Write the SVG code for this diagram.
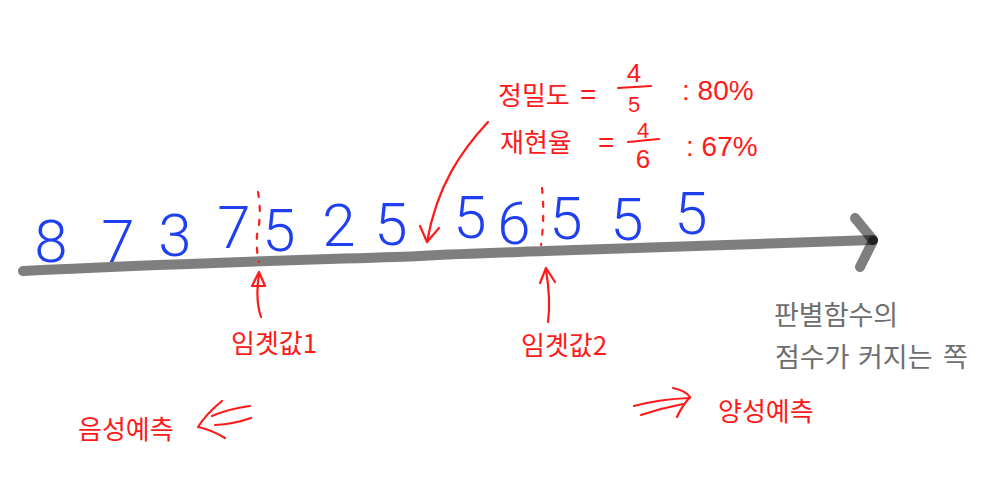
<svg xmlns="http://www.w3.org/2000/svg" width="993" height="502" viewBox="0 0 993 502">
<style>
.digit{font-family:"Roboto","Liberation Sans",sans-serif;font-weight:300;font-size:60px;fill:#1f3ff0;text-anchor:middle}
.hand{font-family:"Liberation Sans","Noto Sans CJK KR",sans-serif;fill:#ff1a1a}
.lbl{font-family:"Noto Sans CJK KR","Noto Sans",sans-serif;font-size:26px;fill:#ff1a1a}
.gray{font-family:"Noto Sans CJK KR","Noto Sans",sans-serif;font-size:27px;fill:#6e6e6e}
.red{fill:none;stroke:#ff1a1a;stroke-width:2.2;stroke-linecap:round;stroke-linejoin:round}
.dash{fill:none;stroke:#ff1a1a;stroke-width:2.2;stroke-dasharray:5 9;stroke-linecap:round}
.axis{fill:none;stroke:#000;stroke-opacity:0.5;stroke-width:10;stroke-linecap:round}
</style>
<rect width="993" height="502" fill="#fff"/>
<g id="axis">
<path class="axis" d="M23,271 C200,262 380,258 420,256 C470,253 520,252 545,251 C700,246 800,242 873,240"/>
<path class="axis" d="M855,218 L873,240"/>
<path class="axis" d="M873,241 L860,267"/>
</g>
<g id="scores">
<text class="digit" x="51" y="262">8</text>
<text class="digit" x="118" y="262">7</text>
<text class="digit" x="175" y="256">3</text>
<text class="digit" x="234" y="248">7</text>
<text class="digit" x="279" y="251">5</text>
<text class="digit" x="339" y="246">2</text>
<text class="digit" x="391" y="245">5</text>
<text class="digit" x="470" y="238">5</text>
<text class="digit" x="514" y="244">6</text>
<text class="digit" x="566" y="239">5</text>
<text class="digit" x="627" y="240">5</text>
<text class="digit" x="691" y="234">5</text>
</g>
<g id="metrics">
<text class="hand" x="498" y="105" font-size="26">정밀도</text>
<text class="hand" x="580" y="104" font-size="28">=</text>
<text class="hand" x="634" y="82" font-size="26" text-anchor="middle">4</text>
<path class="red" d="M618,88 L651,86"/>
<text class="hand" x="634" y="112" font-size="22" text-anchor="middle">5</text>
<text class="hand" x="682" y="100" font-size="28">: 80%</text>
<text class="hand" x="500" y="152" font-size="26">재현율</text>
<text class="hand" x="598" y="152" font-size="28">=</text>
<text class="hand" x="643" y="138" font-size="22" text-anchor="middle">4</text>
<path class="red" d="M628,142 L659,139"/>
<text class="hand" x="643" y="168" font-size="26" text-anchor="middle">6</text>
<text class="hand" x="686" y="156" font-size="28">: 67%</text>
</g>
<g id="threshold1">
<path class="dash" d="M258,192 Q262,215 257,235 Q256,250 259,262"/>
<text class="lbl" x="231" y="353" font-size="25.5">임곗값1</text>
</g>
<g id="threshold2">
<path class="dash" d="M542,188 Q545,215 541,245"/>
<text class="lbl" x="521" y="355" font-size="25.5">임곗값2</text>
</g>
<g id="direction">
<text class="gray" x="774" y="325">판별함수의</text>
<text class="gray" y="367"><tspan x="775">점수가</tspan><tspan x="858">커지는</tspan><tspan x="943">쪽</tspan></text>
</g>
<g id="negative">
<text class="lbl" x="78" y="439">음성예측</text>
</g>
<g id="positive">
<text class="lbl" x="718" y="421">양성예측</text>
</g>
<g id="connectors">
<path class="red" d="M488,122 C462,150 437,185 427,242"/>
<path class="red" d="M420,226 L427,242 L439,228"/>
<path class="red" d="M261,317 Q255,300 259,274"/>
<path class="red" d="M252,286 L259,272 L265,286 Z"/>
<path class="red" d="M548,322 Q551,300 546,270"/>
<path class="red" d="M540,283 L546,268 L555,282"/>
<path class="red" d="M250,406 Q228,409 212,416"/>
<path class="red" d="M251,418 Q234,424 215,425"/>
<path class="red" d="M222,401 Q206,414 198,427 Q212,430 225,438"/>
<path class="red" d="M634,406 Q660,399 690,398"/>
<path class="red" d="M641,415 Q662,408 683,404"/>
<path class="red" d="M673,388 Q686,391 690,397 Q682,406 677,417"/>
</g>
</svg>
